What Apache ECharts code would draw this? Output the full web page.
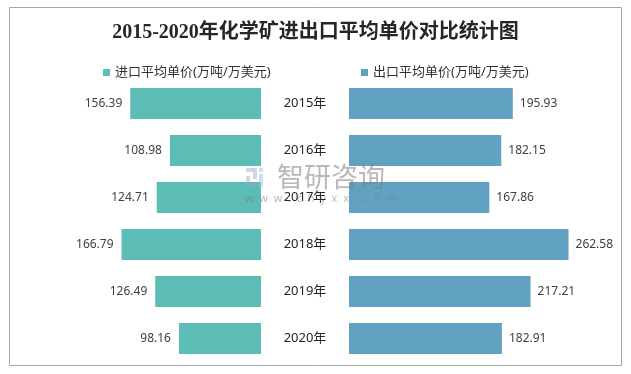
<!DOCTYPE html>
<html><head><meta charset="utf-8">
<script src="https://cdn.jsdelivr.net/npm/echarts@6/dist/echarts.min.js"></script>
<style>html,body{margin:0;padding:0;background:#fff}#c{width:631px;height:374px}</style>
</head><body><div id="c"></div>
<script>
const title = '2015-2020年化学矿进出口平均单价对比统计图';
const years = ['2015年', '2016年', '2017年', '2018年', '2019年', '2020年'];
const importName = '进口平均单价(万吨/万美元)';
const exportName = '出口平均单价(万吨/万美元)';
const importPrice = [156.39, 108.98, 124.71, 166.79, 126.49, 98.16];
const exportPrice = [195.93, 182.15, 167.86, 262.58, 217.21, 182.91];

const cImp = '#5cbdb6';
const cExp = '#61a2c2';
const fontSans = '"Noto Sans", "Noto Sans CJK SC", sans-serif';
const chart = echarts.init(document.getElementById('c'), null, {renderer: 'canvas'});
const axisMax = 300;
const scaleW = 250.8;
const wm = 'rgba(125,125,125,0.55)';
chart.setOption({
  backgroundColor: '#fff',
  animation: false,
  title: {
    text: title, left: 'center', top: 18,
    textStyle: {fontFamily: '"Liberation Serif", "Noto Sans CJK SC", serif', fontWeight: 'bold', fontSize: 20, color: '#262626'}
  },
  legend: [
    {data: [importName], left: 98, top: 61, icon: 'rect', itemWidth: 7, itemHeight: 7, itemGap: 4,
     textStyle: {fontFamily: fontSans, fontSize: 13, color: '#333'}},
    {data: [exportName], left: 356, top: 61, icon: 'rect', itemWidth: 7, itemHeight: 7, itemGap: 4,
     textStyle: {fontFamily: fontSans, fontSize: 13, color: '#333'}}
  ],
  grid: [
    {left: 261 - scaleW, width: scaleW, top: 80, height: 282},
    {left: 349, width: scaleW, top: 80, height: 282}
  ],
  xAxis: [
    {gridIndex: 0, type: 'value', min: 0, max: axisMax, inverse: true, show: false},
    {gridIndex: 1, type: 'value', min: 0, max: axisMax, show: false}
  ],
  yAxis: [
    {gridIndex: 0, type: 'category', data: years, inverse: true, show: false},
    {gridIndex: 1, type: 'category', data: years, inverse: true, z: 200,
     axisLine: {show: false}, axisTick: {show: false},
     axisLabel: {margin: 44, align: 'center', fontFamily: fontSans, fontSize: 13, color: '#262626'}}
  ],
  series: [
    {name: importName, type: 'bar', xAxisIndex: 0, yAxisIndex: 0, data: importPrice, barWidth: '66%',
     itemStyle: {color: cImp},
     label: {show: true, position: 'left', distance: 8, fontFamily: fontSans, fontSize: 12, color: '#404040',
             formatter: p => p.value.toFixed(2)}},
    {name: exportName, type: 'bar', xAxisIndex: 1, yAxisIndex: 1, data: exportPrice, barWidth: '66%',
     itemStyle: {color: cExp},
     label: {show: true, position: 'right', distance: 7, fontFamily: fontSans, fontSize: 12, color: '#404040',
             formatter: p => p.value.toFixed(2)}}
  ],
  graphic: [
    {type: 'rect', shape: {x: 9.5, y: 7.5, width: 612, height: 358}, style: {fill: 'none', stroke: '#a6a6a6', lineWidth: 1}, z: -1},
    {type: 'text', x: 277, y: 163, z: 100, style: {text: '智研咨询', fontFamily: '"Noto Sans CJK SC", sans-serif', fontSize: 27, fill: wm}},
    {type: 'text', x: 245, y: 193, z: 100, style: {text: 'w  w  w  .  c  h  y  x  x  .  c  o  m', fontFamily: fontSans, fontSize: 11, fill: wm}},
    {type: 'rect', shape: {x: 246, y: 168, width: 11, height: 4}, z: 100, style: {fill: 'rgba(150,165,205,0.45)'}},
    {type: 'rect', shape: {x: 253, y: 172, width: 4, height: 7}, z: 100, style: {fill: 'rgba(150,165,205,0.45)'}},
    {type: 'rect', shape: {x: 246, y: 176, width: 4, height: 11}, z: 100, style: {fill: 'rgba(150,165,205,0.45)'}},
    {type: 'rect', shape: {x: 250, y: 183, width: 7, height: 4}, z: 100, style: {fill: 'rgba(150,165,205,0.45)'}},
    {type: 'rect', shape: {x: 259, y: 168, width: 4, height: 4}, z: 100, style: {fill: 'rgba(150,195,225,0.5)'}},
    {type: 'rect', shape: {x: 259, y: 174, width: 4, height: 13}, z: 100, style: {fill: 'rgba(150,195,225,0.5)'}}
  ]
});
</script></body></html>
